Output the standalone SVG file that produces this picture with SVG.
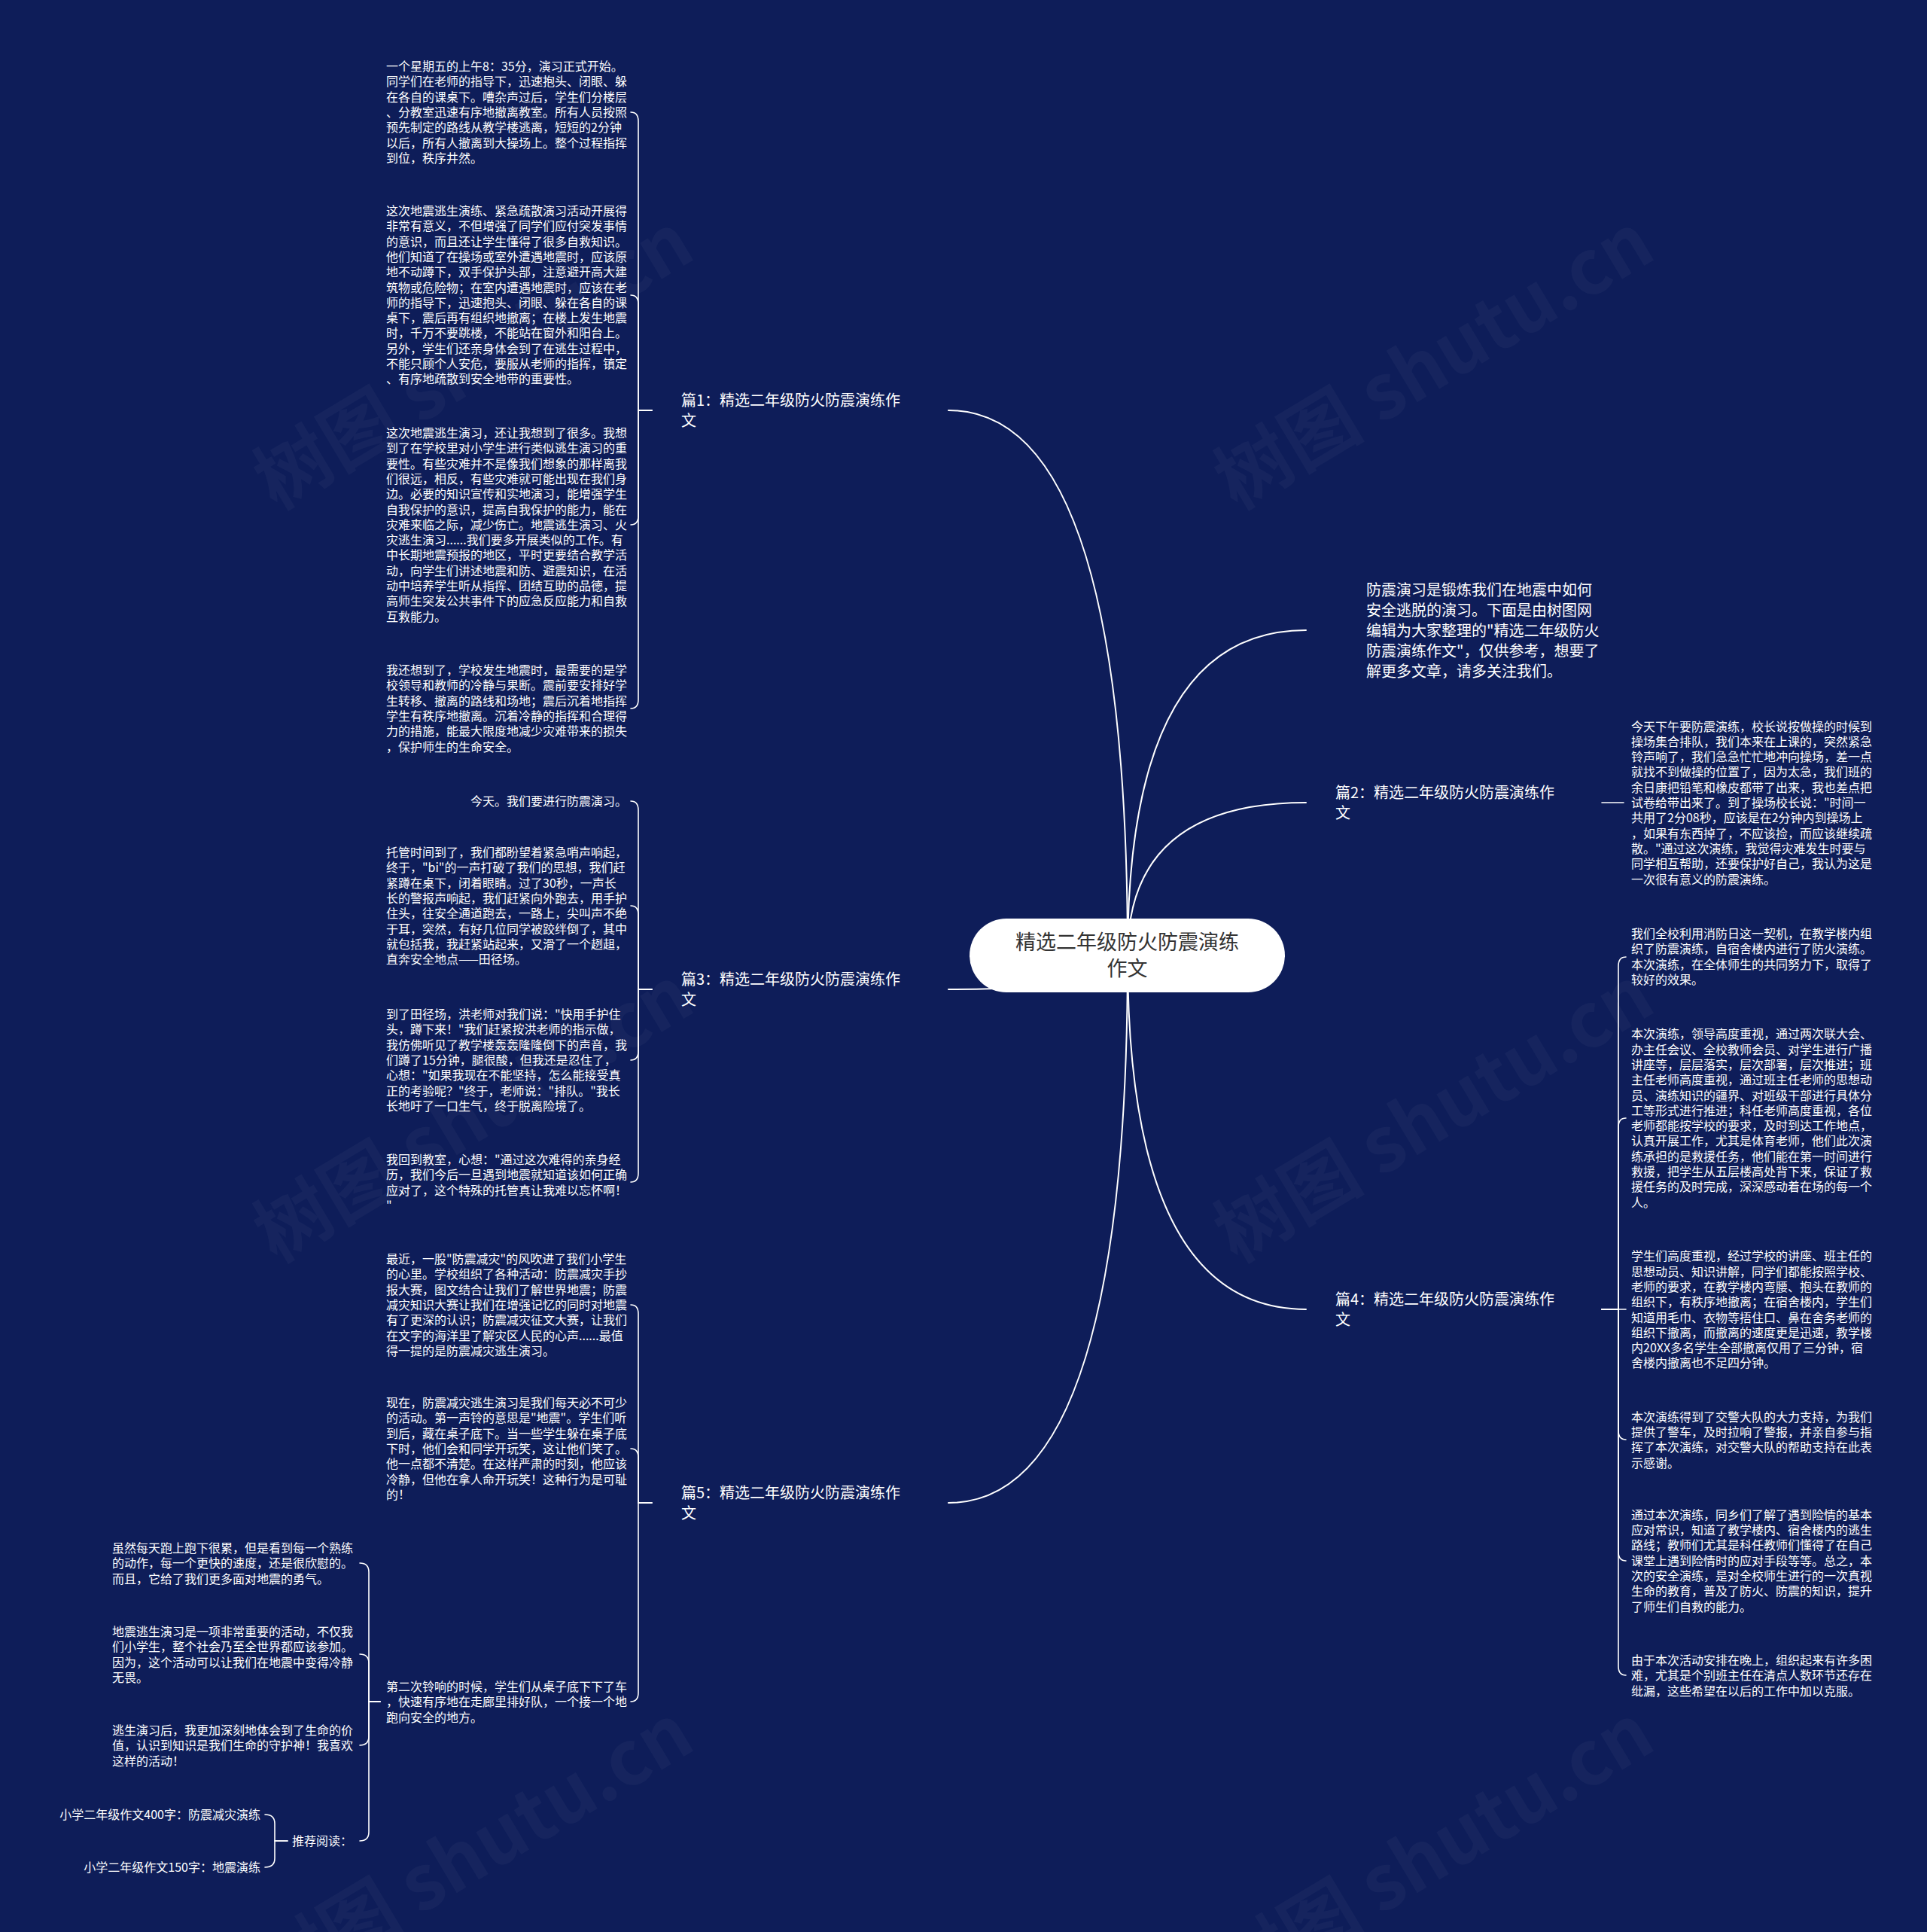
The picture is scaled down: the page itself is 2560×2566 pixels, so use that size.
<svg xmlns="http://www.w3.org/2000/svg" width="2560" height="2566" viewBox="0 0 2560 2566">
<style>
text{font-family:'Noto Sans CJK SC','Noto Sans',sans-serif;}
.t{font-size:16px;fill:#ffffff;}
.lb{font-size:20px;fill:#ffffff;}
.intro{font-size:20px;fill:#ffffff;}
.ct{font-size:27px;fill:#333333;text-anchor:middle;}
.wm{font-size:100px;fill:#ffffff;fill-opacity:0.035;text-anchor:middle;font-weight:bold;}
.c{fill:none;stroke:#ffffff;stroke-width:2;stroke-linecap:round;}
.b{fill:none;stroke:#ffffff;stroke-width:1.6;stroke-linecap:round;}
</style>
<rect x="0" y="0" width="2560" height="2566" fill="#0e1d59"/>
<g id="watermarks">
<text class="wm" transform="translate(647,510) rotate(-31)">树图 shutu.cn</text>
<text class="wm" transform="translate(1923,510) rotate(-31)">树图 shutu.cn</text>
<text class="wm" transform="translate(647,1510) rotate(-31)">树图 shutu.cn</text>
<text class="wm" transform="translate(1923,1510) rotate(-31)">树图 shutu.cn</text>
<text class="wm" transform="translate(647,2490) rotate(-31)">树图 shutu.cn</text>
<text class="wm" transform="translate(1923,2490) rotate(-31)">树图 shutu.cn</text>
</g>
<g id="connectors">
<path class="c" d="M1498,1269 Q1498,545 1260,545"/>
<path class="c" d="M1498,1269 Q1498,1314 1260,1314"/>
<path class="c" d="M1498,1269 Q1498,1996 1260,1996"/>
<path class="c" d="M1498,1269 Q1498,837 1735,837"/>
<path class="c" d="M1498,1269 Q1498,1066 1735,1066"/>
<path class="c" d="M1498,1269 Q1498,1739 1735,1739"/>
<path class="b" d="M866,545 H848 V161 Q848,149 838,149"/>
<path class="b" d="M866,545 H848 V404 Q848,392 838,392"/>
<path class="b" d="M866,545 H848 V685 Q848,697 838,697"/>
<path class="b" d="M866,545 H848 V929 Q848,941 838,941"/>
<path class="b" d="M866,1314 H848 V1076 Q848,1064 838,1064"/>
<path class="b" d="M866,1314 H848 V1215 Q848,1203 838,1203"/>
<path class="b" d="M866,1314 H848 V1396 Q848,1408 838,1408"/>
<path class="b" d="M866,1314 H848 V1558 Q848,1570 838,1570"/>
<path class="b" d="M866,1996 H848 V1745 Q848,1733 838,1733"/>
<path class="b" d="M866,1996 H848 V1936 Q848,1924 838,1924"/>
<path class="b" d="M866,1996 H848 V2248 Q848,2260 838,2260"/>
<path class="b" d="M505,2260 H490 V2088 Q490,2076 478,2076"/>
<path class="b" d="M505,2260 H490 V2209 Q490,2197 478,2197"/>
<path class="b" d="M505,2260 H490 V2306 Q490,2318 478,2318"/>
<path class="b" d="M505,2260 H490 V2433 Q490,2445 478,2445"/>
<path class="b" d="M382,2445 H365 V2422 Q365,2410 352,2410"/>
<path class="b" d="M382,2445 H365 V2468 Q365,2480 352,2480"/>
<path class="b" d="M2128,1066 H2157"/>
<path class="b" d="M2128,1739 H2150 V1283 Q2150,1271 2160,1271"/>
<path class="b" d="M2128,1739 H2150 V1497 Q2150,1485 2160,1485"/>
<path class="b" d="M2128,1739 H2160"/>
<path class="b" d="M2128,1739 H2150 V1900 Q2150,1912 2160,1912"/>
<path class="b" d="M2128,1739 H2150 V2061 Q2150,2073 2160,2073"/>
<path class="b" d="M2128,1739 H2150 V2213 Q2150,2225 2160,2225"/>
</g>
<g id="center">
<rect x="1288" y="1220" width="419" height="98" rx="49" fill="#ffffff"/>
<text class="ct" x="1497.5" y="1261">精选二年级防火防震演练</text>
<text class="ct" x="1497.5" y="1296">作文</text>
</g>
<g id="label-p1"><text class="lb" x="905" y="539">篇1：精选二年级防火防震演练作<tspan x="905" dy="27">文</tspan></text></g>
<g id="label-p3"><text class="lb" x="905" y="1308">篇3：精选二年级防火防震演练作<tspan x="905" dy="27">文</tspan></text></g>
<g id="label-p5"><text class="lb" x="905" y="1990">篇5：精选二年级防火防震演练作<tspan x="905" dy="27">文</tspan></text></g>
<g id="label-p2"><text class="lb" x="1774" y="1060">篇2：精选二年级防火防震演练作<tspan x="1774" dy="27">文</tspan></text></g>
<g id="label-p4"><text class="lb" x="1774" y="1733">篇4：精选二年级防火防震演练作<tspan x="1774" dy="27">文</tspan></text></g>
<g id="intro"><text class="intro" x="1815" y="790.5">防震演习是锻炼我们在地震中如何<tspan x="1815" dy="27">安全逃脱的演习。下面是由树图网</tspan><tspan x="1815" dy="27">编辑为大家整理的"精选二年级防火</tspan><tspan x="1815" dy="27">防震演练作文"，仅供参考，想要了</tspan><tspan x="1815" dy="27">解更多文章，请多关注我们。</tspan></text></g>
<g id="p1-a"><text class="t" x="513" y="94">一个星期五的上午8：35分，演习正式开始。<tspan x="513" dy="20.3">同学们在老师的指导下，迅速抱头、闭眼、躲</tspan><tspan x="513" dy="20.3">在各自的课桌下。嘈杂声过后，学生们分楼层</tspan><tspan x="513" dy="20.3">、分教室迅速有序地撤离教室。所有人员按照</tspan><tspan x="513" dy="20.3">预先制定的路线从教学楼逃离，短短的2分钟</tspan><tspan x="513" dy="20.3">以后，所有人撤离到大操场上。整个过程指挥</tspan><tspan x="513" dy="20.3">到位，秩序井然。</tspan></text></g>
<g id="p1-b"><text class="t" x="513" y="286">这次地震逃生演练、紧急疏散演习活动开展得<tspan x="513" dy="20.3">非常有意义，不但增强了同学们应付突发事情</tspan><tspan x="513" dy="20.3">的意识，而且还让学生懂得了很多自救知识。</tspan><tspan x="513" dy="20.3">他们知道了在操场或室外遭遇地震时，应该原</tspan><tspan x="513" dy="20.3">地不动蹲下，双手保护头部，注意避开高大建</tspan><tspan x="513" dy="20.3">筑物或危险物；在室内遭遇地震时，应该在老</tspan><tspan x="513" dy="20.3">师的指导下，迅速抱头、闭眼、躲在各自的课</tspan><tspan x="513" dy="20.3">桌下，震后再有组织地撤离；在楼上发生地震</tspan><tspan x="513" dy="20.3">时，千万不要跳楼，不能站在窗外和阳台上。</tspan><tspan x="513" dy="20.3">另外，学生们还亲身体会到了在逃生过程中，</tspan><tspan x="513" dy="20.3">不能只顾个人安危，要服从老师的指挥，镇定</tspan><tspan x="513" dy="20.3">、有序地疏散到安全地带的重要性。</tspan></text></g>
<g id="p1-c"><text class="t" x="513" y="581">这次地震逃生演习，还让我想到了很多。我想<tspan x="513" dy="20.3">到了在学校里对小学生进行类似逃生演习的重</tspan><tspan x="513" dy="20.3">要性。有些灾难并不是像我们想象的那样离我</tspan><tspan x="513" dy="20.3">们很远，相反，有些灾难就可能出现在我们身</tspan><tspan x="513" dy="20.3">边。必要的知识宣传和实地演习，能增强学生</tspan><tspan x="513" dy="20.3">自我保护的意识，提高自我保护的能力，能在</tspan><tspan x="513" dy="20.3">灾难来临之际，减少伤亡。地震逃生演习、火</tspan><tspan x="513" dy="20.3">灾逃生演习......我们要多开展类似的工作。有</tspan><tspan x="513" dy="20.3">中长期地震预报的地区，平时更要结合教学活</tspan><tspan x="513" dy="20.3">动，向学生们讲述地震和防、避震知识，在活</tspan><tspan x="513" dy="20.3">动中培养学生听从指挥、团结互助的品德，提</tspan><tspan x="513" dy="20.3">高师生突发公共事件下的应急反应能力和自救</tspan><tspan x="513" dy="20.3">互救能力。</tspan></text></g>
<g id="p1-d"><text class="t" x="513" y="896">我还想到了，学校发生地震时，最需要的是学<tspan x="513" dy="20.3">校领导和教师的冷静与果断。震前要安排好学</tspan><tspan x="513" dy="20.3">生转移、撤离的路线和场地；震后沉着地指挥</tspan><tspan x="513" dy="20.3">学生有秩序地撤离。沉着冷静的指挥和合理得</tspan><tspan x="513" dy="20.3">力的措施，能最大限度地减少灾难带来的损失</tspan><tspan x="513" dy="20.3">，保护师生的生命安全。</tspan></text></g>
<g id="p3-a"><text class="t" x="833" y="1070" text-anchor="end">今天。我们要进行防震演习。</text></g>
<g id="p3-b"><text class="t" x="513" y="1138">托管时间到了，我们都盼望着紧急哨声响起，<tspan x="513" dy="20.3">终于，"bi"的一声打破了我们的思想，我们赶</tspan><tspan x="513" dy="20.3">紧蹲在桌下，闭着眼睛。过了30秒，一声长</tspan><tspan x="513" dy="20.3">长的警报声响起，我们赶紧向外跑去，用手护</tspan><tspan x="513" dy="20.3">住头，往安全通道跑去，一路上，尖叫声不绝</tspan><tspan x="513" dy="20.3">于耳，突然，有好几位同学被跤绊倒了，其中</tspan><tspan x="513" dy="20.3">就包括我，我赶紧站起来，又滑了一个趔趄，</tspan><tspan x="513" dy="20.3">直奔安全地点——田径场。</tspan></text></g>
<g id="p3-c"><text class="t" x="513" y="1353">到了田径场，洪老师对我们说："快用手护住<tspan x="513" dy="20.3">头，蹲下来！"我们赶紧按洪老师的指示做，</tspan><tspan x="513" dy="20.3">我仿佛听见了教学楼轰轰隆隆倒下的声音，我</tspan><tspan x="513" dy="20.3">们蹲了15分钟，腿很酸，但我还是忍住了，</tspan><tspan x="513" dy="20.3">心想："如果我现在不能坚持，怎么能接受真</tspan><tspan x="513" dy="20.3">正的考验呢？"终于，老师说："排队。"我长</tspan><tspan x="513" dy="20.3">长地吁了一口生气，终于脱离险境了。</tspan></text></g>
<g id="p3-d"><text class="t" x="513" y="1546">我回到教室，心想："通过这次难得的亲身经<tspan x="513" dy="20.3">历，我们今后一旦遇到地震就知道该如何正确</tspan><tspan x="513" dy="20.3">应对了，这个特殊的托管真让我难以忘怀啊！</tspan><tspan x="513" dy="20.3">"</tspan></text></g>
<g id="p5-a"><text class="t" x="513" y="1678">最近，一股"防震减灾"的风吹进了我们小学生<tspan x="513" dy="20.3">的心里。学校组织了各种活动：防震减灾手抄</tspan><tspan x="513" dy="20.3">报大赛，图文结合让我们了解世界地震；防震</tspan><tspan x="513" dy="20.3">减灾知识大赛让我们在增强记忆的同时对地震</tspan><tspan x="513" dy="20.3">有了更深的认识；防震减灾征文大赛，让我们</tspan><tspan x="513" dy="20.3">在文字的海洋里了解灾区人民的心声......最值</tspan><tspan x="513" dy="20.3">得一提的是防震减灾逃生演习。</tspan></text></g>
<g id="p5-b"><text class="t" x="513" y="1869">现在，防震减灾逃生演习是我们每天必不可少<tspan x="513" dy="20.3">的活动。第一声铃的意思是"地震"。学生们听</tspan><tspan x="513" dy="20.3">到后，藏在桌子底下。当一些学生躲在桌子底</tspan><tspan x="513" dy="20.3">下时，他们会和同学开玩笑，这让他们笑了。</tspan><tspan x="513" dy="20.3">他一点都不清楚。在这样严肃的时刻，他应该</tspan><tspan x="513" dy="20.3">冷静，但他在拿人命开玩笑！这种行为是可耻</tspan><tspan x="513" dy="20.3">的！</tspan></text></g>
<g id="p5-c"><text class="t" x="513" y="2246">第二次铃响的时候，学生们从桌子底下下了车<tspan x="513" dy="20.3">，快速有序地在走廊里排好队，一个接一个地</tspan><tspan x="513" dy="20.3">跑向安全的地方。</tspan></text></g>
<g id="p5-c1"><text class="t" x="149" y="2062">虽然每天跑上跑下很累，但是看到每一个熟练<tspan x="149" dy="20.3">的动作，每一个更快的速度，还是很欣慰的。</tspan><tspan x="149" dy="20.3">而且，它给了我们更多面对地震的勇气。</tspan></text></g>
<g id="p5-c2"><text class="t" x="149" y="2173">地震逃生演习是一项非常重要的活动，不仅我<tspan x="149" dy="20.3">们小学生，整个社会乃至全世界都应该参加。</tspan><tspan x="149" dy="20.3">因为，这个活动可以让我们在地震中变得冷静</tspan><tspan x="149" dy="20.3">无畏。</tspan></text></g>
<g id="p5-c3"><text class="t" x="149" y="2304">逃生演习后，我更加深刻地体会到了生命的价<tspan x="149" dy="20.3">值，认识到知识是我们生命的守护神！我喜欢</tspan><tspan x="149" dy="20.3">这样的活动！</tspan></text></g>
<g id="p5-c4"><text class="t" x="388" y="2451">推荐阅读：</text></g>
<g id="p5-c4a"><text class="t" x="346" y="2416" text-anchor="end">小学二年级作文400字：防震减灾演练</text></g>
<g id="p5-c4b"><text class="t" x="346" y="2486" text-anchor="end">小学二年级作文150字：地震演练</text></g>
<g id="p2-a"><text class="t" x="2167" y="970.5">今天下午要防震演练，校长说按做操的时候到<tspan x="2167" dy="20.3">操场集合排队，我们本来在上课的，突然紧急</tspan><tspan x="2167" dy="20.3">铃声响了，我们急急忙忙地冲向操场，差一点</tspan><tspan x="2167" dy="20.3">就找不到做操的位置了，因为太急，我们班的</tspan><tspan x="2167" dy="20.3">余日康把铅笔和橡皮都带了出来，我也差点把</tspan><tspan x="2167" dy="20.3">试卷给带出来了。到了操场校长说："时间一</tspan><tspan x="2167" dy="20.3">共用了2分08秒，应该是在2分钟内到操场上</tspan><tspan x="2167" dy="20.3">，如果有东西掉了，不应该捡，而应该继续疏</tspan><tspan x="2167" dy="20.3">散。"通过这次演练，我觉得灾难发生时要与</tspan><tspan x="2167" dy="20.3">同学相互帮助，还要保护好自己，我认为这是</tspan><tspan x="2167" dy="20.3">一次很有意义的防震演练。</tspan></text></g>
<g id="p4-a"><text class="t" x="2167" y="1246">我们全校利用消防日这一契机，在教学楼内组<tspan x="2167" dy="20.3">织了防震演练，自宿舍楼内进行了防火演练。</tspan><tspan x="2167" dy="20.3">本次演练，在全体师生的共同努力下，取得了</tspan><tspan x="2167" dy="20.3">较好的效果。</tspan></text></g>
<g id="p4-b"><text class="t" x="2167" y="1379.3">本次演练，领导高度重视，通过两次联大会、<tspan x="2167" dy="20.3">办主任会议、全校教师会员、对学生进行广播</tspan><tspan x="2167" dy="20.3">讲座等，层层落实，层次部署，层次推进；班</tspan><tspan x="2167" dy="20.3">主任老师高度重视，通过班主任老师的思想动</tspan><tspan x="2167" dy="20.3">员、演练知识的疆界、对班级干部进行具体分</tspan><tspan x="2167" dy="20.3">工等形式进行推进；科任老师高度重视，各位</tspan><tspan x="2167" dy="20.3">老师都能按学校的要求，及时到达工作地点，</tspan><tspan x="2167" dy="20.3">认真开展工作，尤其是体育老师，他们此次演</tspan><tspan x="2167" dy="20.3">练承担的是救援任务，他们能在第一时间进行</tspan><tspan x="2167" dy="20.3">救援，把学生从五层楼高处背下来，保证了救</tspan><tspan x="2167" dy="20.3">援任务的及时完成，深深感动着在场的每一个</tspan><tspan x="2167" dy="20.3">人。</tspan></text></g>
<g id="p4-c"><text class="t" x="2167" y="1674.3">学生们高度重视，经过学校的讲座、班主任的<tspan x="2167" dy="20.3">思想动员、知识讲解，同学们都能按照学校、</tspan><tspan x="2167" dy="20.3">老师的要求，在教学楼内弯腰、抱头在教师的</tspan><tspan x="2167" dy="20.3">组织下，有秩序地撤离；在宿舍楼内，学生们</tspan><tspan x="2167" dy="20.3">知道用毛巾、衣物等捂住口、鼻在舍务老师的</tspan><tspan x="2167" dy="20.3">组织下撤离，而撤离的速度更是迅速，教学楼</tspan><tspan x="2167" dy="20.3">内20XX多名学生全部撤离仅用了三分钟，宿</tspan><tspan x="2167" dy="20.3">舍楼内撤离也不足四分钟。</tspan></text></g>
<g id="p4-d"><text class="t" x="2167" y="1887.7">本次演练得到了交警大队的大力支持，为我们<tspan x="2167" dy="20.3">提供了警车，及时拉响了警报，并亲自参与指</tspan><tspan x="2167" dy="20.3">挥了本次演练，对交警大队的帮助支持在此表</tspan><tspan x="2167" dy="20.3">示感谢。</tspan></text></g>
<g id="p4-e"><text class="t" x="2167" y="2017.7">通过本次演练，同乡们了解了遇到险情的基本<tspan x="2167" dy="20.3">应对常识，知道了教学楼内、宿舍楼内的逃生</tspan><tspan x="2167" dy="20.3">路线；教师们尤其是科任教师们懂得了在自己</tspan><tspan x="2167" dy="20.3">课堂上遇到险情时的应对手段等等。总之，本</tspan><tspan x="2167" dy="20.3">次的安全演练，是对全校师生进行的一次真视</tspan><tspan x="2167" dy="20.3">生命的教育，普及了防火、防震的知识，提升</tspan><tspan x="2167" dy="20.3">了师生们自救的能力。</tspan></text></g>
<g id="p4-f"><text class="t" x="2167" y="2211">由于本次活动安排在晚上，组织起来有许多困<tspan x="2167" dy="20.3">难，尤其是个别班主任在清点人数环节还存在</tspan><tspan x="2167" dy="20.3">纰漏，这些希望在以后的工作中加以克服。</tspan></text></g>
</svg>
